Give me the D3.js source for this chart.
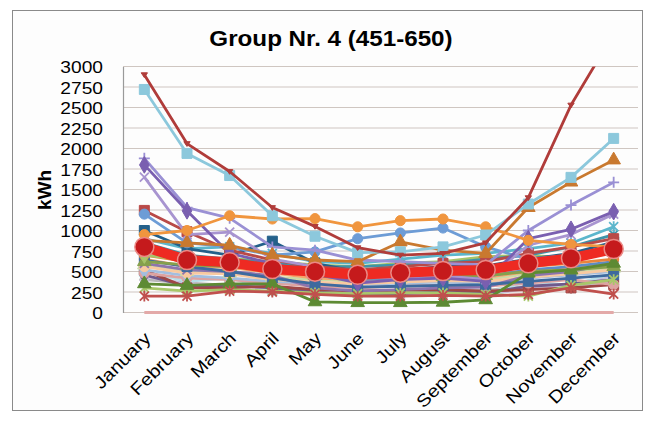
<!DOCTYPE html>
<html>
<head>
<meta charset="utf-8">
<script src="https://cdn.jsdelivr.net/npm/d3@7"></script>
<style>
  html, body { margin: 0; padding: 0; background: #ffffff; }
  svg { display: block; }
  text { font-family: "Liberation Sans", Arial, sans-serif; fill: #000; }
</style>
</head>
<body>
<svg id="chart" width="654" height="423"></svg>
<script>
// ---------------- data ----------------
const months = ["January","February","March","April","May","June","July","August","September","October","November","December"];
const yTicks = [0,250,500,750,1000,1250,1500,1750,2000,2250,2500,2750,3000];
const chartTitle = "Group Nr. 4 (451-650)";
const yTitle = "kWh";

const avgValues   = [800, 640, 612, 530, 498, 460, 486, 506, 518, 600, 661, 774];

const seriesA  = [2900, 2060, 1720, 1280, 1050, 790, 700, 720, 850, 1400, 2530, 3400];
const seriesB  = [2720, 1940, 1670, 1180, 930, 730, 740, 800, 945, 1323, 1648, 2123];
const seriesC  = [950, 1000, 1180, 1140, 1145, 1045, 1120, 1140, 1045, 880, 830, 800];
const seriesD  = [880, 850, 820, 700, 640, 620, 860, 760, 720, 1280, 1590, 1860];
const seriesE  = [1800, 1240, 720, 600, 470, 360, 400, 420, 380, 900, 1015, 1230];
const seriesF  = [1650, 950, 980, 650, 560, 420, 430, 450, 400, 820, 950, 1200];
const seriesG  = [1880, 1280, 1150, 800, 760, 640, 620, 600, 580, 1000, 1310, 1587];
const seriesH  = [1245, 985, 760, 640, 560, 520, 560, 600, 620, 720, 800, 900];
const seriesI  = [1200, 850, 800, 700, 740, 900, 970, 1030, 800, 650, 700, 750];
const seriesJ  = [1000, 780, 700, 870, 600, 500, 520, 560, 570, 650, 720, 860];
const seriesK  = [350, 330, 350, 350, 130, 120, 120, 125, 155, 480, 520, 600];
const seriesL  = [200, 200, 260, 250, 220, 200, 200, 210, 200, 220, 300, 225];
const seriesM  = [0, 0, 0, 0, 0, 0, 0, 0, 0, 0, 0, 0];
const seriesN  = [900, 780, 800, 720, 620, 600, 650, 700, 720, 780, 845, 1046];
const seriesO  = [850, 700, 650, 600, 560, 560, 580, 600, 650, 700, 800, 950];
const seriesP  = [700, 640, 660, 620, 580, 560, 600, 620, 680, 700, 660, 720];
const seriesQ  = [750, 680, 600, 560, 450, 400, 420, 430, 440, 520, 560, 620];
const seriesR  = [600, 520, 500, 450, 300, 260, 280, 300, 310, 450, 500, 600];
const seriesS  = [650, 560, 550, 480, 420, 400, 420, 440, 430, 500, 540, 580];
const seriesT  = [560, 480, 470, 400, 370, 350, 370, 390, 380, 430, 470, 520];
const seriesU  = [580, 500, 480, 430, 400, 380, 400, 420, 400, 470, 500, 540];
const seriesV  = [520, 450, 420, 380, 360, 340, 360, 370, 360, 420, 460, 500];
const seriesW  = [480, 420, 400, 360, 320, 300, 320, 330, 320, 360, 400, 340];
const seriesX  = [500, 380, 420, 280, 260, 240, 250, 260, 230, 380, 330, 480];
const seriesY  = [440, 350, 330, 300, 220, 210, 220, 230, 210, 300, 320, 450];
const seriesZ  = [640, 560, 500, 420, 350, 310, 320, 330, 340, 380, 420, 460];
const seriesAA = [520, 300, 300, 320, 280, 260, 270, 280, 260, 280, 300, 340];
const seriesAB = [620, 580, 560, 520, 450, 420, 430, 440, 450, 500, 520, 560];
const seriesAC = [460, 320, 330, 300, 250, 220, 230, 250, 240, 320, 350, 400];
const seriesAD = [700, 620, 600, 540, 480, 460, 480, 500, 520, 560, 600, 650];
const seriesAE = [400, 360, 330, 300, 280, 260, 270, 280, 270, 320, 330, 380];
const seriesAF = [300, 260, 280, 260, 240, 230, 240, 240, 220, 200, 330, 400];

// ---------------- styles (separate from data) ----------------
const styled = [
  [seriesM,  "#E3A9A8", "none"],
  [seriesAE, "#B8B8B8", "diamond"],
  [seriesY,  "#C9BEDB", "x"],
  [seriesX,  "#B7DEE8", "square"],
  [seriesAC, "#6F5A8C", "diamond"],
  [seriesAA, "#A04745", "square"],
  [seriesW,  "#DDA3A1", "circle"],
  [seriesV,  "#A3BEDF", "diamond"],
  [seriesU,  "#C9DBA6", "triangle"],
  [seriesT,  "#F8C9A0", "circle"],
  [seriesS,  "#F5A36A", "circle"],
  [seriesR,  "#8D74AD", "x"],
  [seriesQ,  "#5F8CC4", "diamond"],
  [seriesZ,  "#3E6A9E", "square"],
  [seriesAB, "#86A04C", "triangle"],
  [seriesAD, "#E8843A", "circle"],
  [seriesP,  "#A6C46A", "diamond"],
  [seriesO,  "#3E93A8", "star"],
  [seriesAF, "#A8C76A", "star"],
  [seriesN,  "#5BB6CC", "star"],
  [seriesK,  "#5D8A33", "triangle"],
  [seriesL,  "#C0504D", "star"],
  [seriesJ,  "#23608A", "square"],
  [seriesH,  "#B94A48", "square"],
  [seriesI,  "#6D9CD6", "circle"],
  [seriesF,  "#A894D0", "x"],
  [seriesG,  "#9A90D4", "plus"],
  [seriesE,  "#7A5FB0", "diamond"],
  [seriesD,  "#C9792F", "triangle"],
  [seriesC,  "#F0953E", "circle"],
  [seriesB,  "#8CC8DC", "square"],
  [seriesA,  "#B03C3A", "triDown"]
];

// ---------------- layout ----------------
const svg = d3.select("#chart");
const plot = { left: 123, right: 635, top: 66.5, bottom: 312.5 };

svg.append("rect").attr("x", 0).attr("y", 0).attr("width", 654).attr("height", 423).attr("fill", "#ffffff");
svg.append("rect").attr("x", 12.5).attr("y", 10.5).attr("width", 630).attr("height", 400)
   .attr("fill", "#fdfdfd").attr("stroke", "#8a8a8a").attr("stroke-width", 1);

const x = d3.scalePoint().domain(months).range([plot.left, plot.right]).padding(0.5);
const y = d3.scaleLinear().domain([0, 3000]).range([plot.bottom, plot.top]);

// gridlines
svg.append("g").selectAll("line").data(yTicks).join("line")
  .attr("x1", plot.left).attr("x2", plot.right + 3)
  .attr("y1", d => y(d)).attr("y2", d => y(d))
  .attr("stroke", "#CFC6C1").attr("stroke-width", 1.2);

// y axis
const yAxis = d3.axisLeft(y).tickValues(yTicks).tickSize(0).tickPadding(0).tickFormat(d3.format("d"));
const gy = svg.append("g").attr("transform", `translate(${plot.left},0)`).call(yAxis);
gy.select(".domain").attr("stroke", "#9a9a9a").attr("stroke-width", 1.2);
gy.selectAll("text")
  .attr("x", null).attr("dy", "0.36em")
  .style("font-size", "17px")
  .attr("text-anchor", "end")
  .attr("transform", "translate(-20,0) scale(1.13,1)");

// x axis labels
const xAxis = d3.axisBottom(x).tickSize(0).tickPadding(0);
const gx = svg.append("g").attr("transform", `translate(0,${plot.bottom})`).call(xAxis);
gx.select(".domain").remove();
gx.selectAll(".tick text")
  .attr("y", 0).attr("dy", 0)
  .style("font-size", "17.5px")
  .attr("text-anchor", "end")
  .attr("transform", "translate(7,27) rotate(-45) scale(1.15,1)");

// titles
svg.append("text").attr("x", 331).attr("y", 46).attr("text-anchor", "middle")
  .style("font-size", "22px").style("font-weight", "bold")
  .attr("transform", "translate(331,0) scale(1.1,1) translate(-331,0)")
  .text(chartTitle);
svg.append("text").attr("transform", "translate(51,190) rotate(-90)")
  .attr("text-anchor", "middle").style("font-size", "19px").style("font-weight", "bold")
  .text(yTitle);

// clip for lines
svg.append("clipPath").attr("id", "plotclip").append("rect")
  .attr("x", plot.left).attr("y", plot.top).attr("width", plot.right - plot.left + 10).attr("height", 280);

// symbols
const symX = { draw(ctx, size) { const r = Math.sqrt(size) / 2; ctx.moveTo(-r, -r); ctx.lineTo(r, r); ctx.moveTo(r, -r); ctx.lineTo(-r, r); } };
const symPlus = { draw(ctx, size) { const r = Math.sqrt(size) / 2; ctx.moveTo(-r, 0); ctx.lineTo(r, 0); ctx.moveTo(0, -r); ctx.lineTo(0, r); } };
const symStar = { draw(ctx, size) { const r = Math.sqrt(size) / 2; ctx.moveTo(-r, -r); ctx.lineTo(r, r); ctx.moveTo(r, -r); ctx.lineTo(-r, r); ctx.moveTo(0, -r*1.2); ctx.lineTo(0, r*1.2); } };
const symTriDown = { draw(ctx, size) { const r = Math.sqrt(size) / 2; ctx.moveTo(-r, -r*0.6); ctx.lineTo(r, -r*0.6); ctx.lineTo(0, r*0.9); ctx.closePath(); } };
const markerDef = {
  circle:   { type: d3.symbolCircle,   size: 80, fill: true },
  square:   { type: d3.symbolSquare,   size: 100, fill: true },
  triangle: { type: d3.symbolTriangle, size: 80, fill: true },
  diamond:  { type: d3.symbolDiamond,  size: 80, fill: true },
  x:        { type: symX,              size: 81, fill: false },
  plus:     { type: symPlus,           size: 121, fill: false },
  star:     { type: symStar,           size: 81, fill: false },
  triDown:  { type: symTriDown,        size: 40, fill: true }
};

const line = d3.line().x((d, i) => x(months[i])).y(d => y(d));
const series = svg.append("g");

styled.forEach(([vals, color, marker]) => {
  const g = series.append("g");
  g.append("path").datum(vals).attr("d", line)
    .attr("fill", "none").attr("stroke", color).attr("stroke-width", 2.8)
    .attr("stroke-linejoin", "round").attr("clip-path", "url(#plotclip)");
  if (marker !== "none") {
    const md = markerDef[marker];
    const sym = d3.symbol().type(md.type).size(md.size);
    g.selectAll("path.m").data(vals.map((v, i) => [i, v]).filter(d => d[1] <= 3000)).join("path")
      .attr("class", "m")
      .attr("transform", d => `translate(${x(months[d[0]])},${y(d[1])})`)
      .attr("d", sym)
      .attr("fill", md.fill ? color : "none")
      .attr("stroke", color).attr("stroke-width", md.fill ? 1 : 1.8);
  }
});

// average series (thick red line with big circles)
const avgG = svg.append("g");
avgG.append("path").datum(avgValues).attr("d", line)
  .attr("fill", "none").attr("stroke", "#EE2A22").attr("stroke-width", 10)
  .attr("stroke-linejoin", "round");
avgG.selectAll("circle").data(avgValues).join("circle")
  .attr("cx", (d, i) => x(months[i])).attr("cy", d => y(d)).attr("r", 9.5)
  .attr("fill", "#C51A1C").attr("stroke", "#EB8A86").attr("stroke-width", 1.5);
</script>
</body>
</html>
